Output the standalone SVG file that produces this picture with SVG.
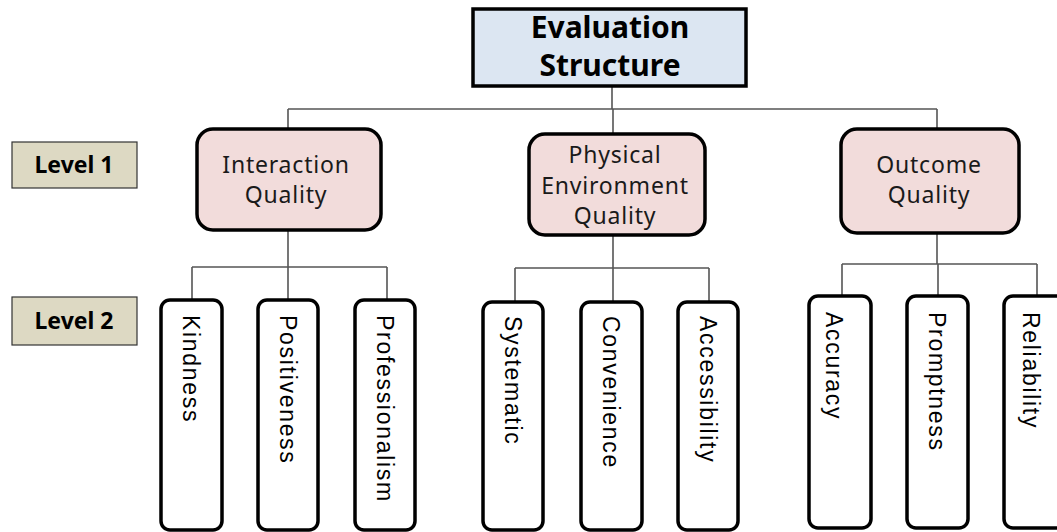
<svg xmlns="http://www.w3.org/2000/svg" width="1057" height="532" viewBox="0 0 1057 532">
<style>
.root{fill:#dce6f2;stroke:#000;stroke-width:3.5}
.l1{fill:#f2dcdb;stroke:#000;stroke-width:3.5}
.l2{fill:#fff;stroke:#000;stroke-width:3.5}
.lab{fill:#ddd9c3;stroke:#333;stroke-width:1.2}
.conn{fill:none;stroke:#555;stroke-width:1.6}
.tr{font-family:"Noto Sans",sans-serif;font-weight:bold;font-size:30px;fill:#000;text-anchor:middle}
.tl{font-family:"Noto Sans",sans-serif;font-weight:bold;font-size:23px;fill:#000;text-anchor:middle}
.t1{font-family:"Noto Sans",sans-serif;font-size:23px;fill:#1a1a1a;text-anchor:middle;letter-spacing:0.8px}
.t2{font-family:"Liberation Sans",Arial,sans-serif;font-size:23px;fill:#000;letter-spacing:1.7px}
</style>
<g id="connectors" class="conn">
<path d="M612,86 V109 M288,109 H937 M288,109 V129 M613,109 V134 M937,109 V129"/>
<path d="M288,230 V267 M192,267 H387 M192,267 V300 M288,267 V300 M387,267 V300"/>
<path d="M613,235 V268 M515,268 H709 M515,268 V302 M613,268 V302 M709,268 V302"/>
<path d="M937,233 V264 M842,264 H1037 M842,264 V296 M938,264 V296 M1037,264 V296"/>
</g>
<g id="root">
<rect class="root" x="473" y="9" width="273" height="77"/>
<text class="tr" x="610" y="38">Evaluation</text>
<text class="tr" x="610" y="76">Structure</text>
</g>
<g id="level1-label">
<rect class="lab" x="12" y="142" width="125" height="46"/>
<text class="tl" x="74" y="173">Level 1</text>
</g>
<g id="level2-label">
<rect class="lab" x="12" y="297" width="125" height="48"/>
<text class="tl" x="74" y="329">Level 2</text>
</g>
<g id="interaction">
<rect class="l1" x="197" y="129" width="184" height="101" rx="16"/>
<text class="t1" x="286" y="173">Interaction</text>
<text class="t1" x="286" y="203">Quality</text>
</g>
<g id="physical">
<rect class="l1" x="529" y="134" width="176" height="101" rx="16"/>
<text class="t1" x="615" y="163">Physical</text>
<text class="t1" x="615" y="194">Environment</text>
<text class="t1" x="615" y="224">Quality</text>
</g>
<g id="outcome">
<rect class="l1" x="841" y="129" width="178" height="104" rx="16"/>
<text class="t1" x="929" y="173">Outcome</text>
<text class="t1" x="929" y="203">Quality</text>
</g>
<g id="kindness">
<rect class="l2" x="161" y="300" width="61" height="230" rx="9"/>
<text class="t2" transform="translate(183,315) rotate(90)">Kindness</text>
</g>
<g id="positiveness">
<rect class="l2" x="258" y="300" width="60" height="230" rx="9"/>
<text class="t2" transform="translate(280,315) rotate(90)">Positiveness</text>
</g>
<g id="professionalism">
<rect class="l2" x="355" y="300" width="60" height="230" rx="9"/>
<text class="t2" transform="translate(377,315) rotate(90)">Professionalism</text>
</g>
<g id="systematic">
<rect class="l2" x="483" y="302" width="60" height="228" rx="9"/>
<text class="t2" transform="translate(505,316) rotate(90)">Systematic</text>
</g>
<g id="convenience">
<rect class="l2" x="581" y="302" width="61" height="228" rx="9"/>
<text class="t2" transform="translate(603,316) rotate(90)">Convenience</text>
</g>
<g id="accessibility">
<rect class="l2" x="678" y="302" width="60" height="228" rx="9"/>
<text class="t2" transform="translate(700,316) rotate(90)">Accessibility</text>
</g>
<g id="accuracy">
<rect class="l2" x="809" y="296" width="62" height="232" rx="9"/>
<text class="t2" transform="translate(826,312) rotate(90)">Accuracy</text>
</g>
<g id="promptness">
<rect class="l2" x="907" y="296" width="61" height="232" rx="9"/>
<text class="t2" transform="translate(929,312) rotate(90)">Promptness</text>
</g>
<g id="reliability">
<rect class="l2" x="1004" y="296" width="62" height="232" rx="9"/>
<text class="t2" transform="translate(1023,312) rotate(90)">Reliability</text>
</g>
</svg>
